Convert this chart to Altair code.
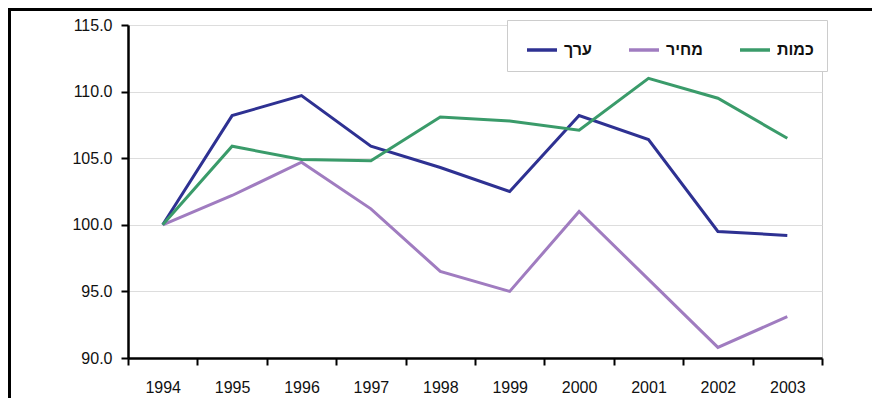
import altair as alt
import pandas as pd

years = ["1994", "1995", "1996", "1997", "1998", "1999", "2000", "2001", "2002", "2003"]
series_names = ["ערך", "מחיר", "כמות"]
value_idx = [100.0, 108.2, 109.7, 105.9, 104.3, 102.5, 108.2, 106.4, 99.5, 99.2]
price_idx = [100.0, 102.2, 104.7, 101.2, 96.5, 95.0, 101.0, 95.9, 90.8, 93.1]
qty_idx = [100.0, 105.9, 104.9, 104.8, 108.1, 107.8, 107.1, 111.0, 109.5, 106.5]
colors = ["#2E3192", "#A07CC0", "#3A9B6A"]

rows = []
for name, vals in zip(series_names, [value_idx, price_idx, qty_idx]):
    for y, v in zip(years, vals):
        rows.append({"year": y, "series": name, "v": v})
df = pd.DataFrame(rows)

lines = alt.Chart(df).mark_line(strokeWidth=3, clip=False).encode(
    x=alt.X("year:N", sort=years, title=None,
            scale=alt.Scale(paddingInner=0, paddingOuter=0),
            axis=alt.Axis(labelAngle=0, tickBand="extent", labelPadding=14, grid=False)),
    y=alt.Y("v:Q", title=None,
            scale=alt.Scale(domain=[90, 115], nice=False, zero=False),
            axis=alt.Axis(values=[90, 95, 100, 105, 110, 115], format=".1f",
                          labelPadding=9, grid=True, gridColor="#DDDDDD", gridWidth=1)),
    color=alt.Color("series:N", scale=alt.Scale(domain=series_names, range=colors),
                    legend=alt.Legend(title=None, orient="none", legendX=379, legendY=-5,
                                      direction="horizontal", symbolType="stroke")),
)

frame_top = alt.Chart(pd.DataFrame({"a": [0]})).mark_rect(color="black").encode(
    x=alt.value(-120), x2=alt.value(760), y=alt.value(-17), y2=alt.value(-14))
frame_left = alt.Chart(pd.DataFrame({"a": [0]})).mark_rect(color="black").encode(
    x=alt.value(-120), x2=alt.value(-117), y=alt.value(-17), y2=alt.value(390))

chart = alt.layer(lines, frame_top, frame_left).properties(
    width=694, height=333,
    autosize=alt.AutoSizeParams(type="none"),
    padding={"left": 120, "top": 17, "right": 50, "bottom": 40},
).configure_view(
    stroke="#CCCCCC", strokeWidth=1
).configure_axis(
    domainColor="black", domainWidth=2.5, tickColor="black", tickWidth=2, tickSize=7,
    labelFont="Liberation Sans", labelFontSize=16, labelColor="#111",
).configure_legend(
    symbolStrokeWidth=3.5, symbolSize=900, labelFont="Liberation Sans",
    labelFontSize=16, labelFontWeight="bold", labelColor="#111",
    columnPadding=30, padding=13, symbolOffset=5, fillColor="white",
    strokeColor="#CCCCCC", labelOffset=5,
)

chart.save("out.html", embed_options={"renderer": "svg", "actions": False})
